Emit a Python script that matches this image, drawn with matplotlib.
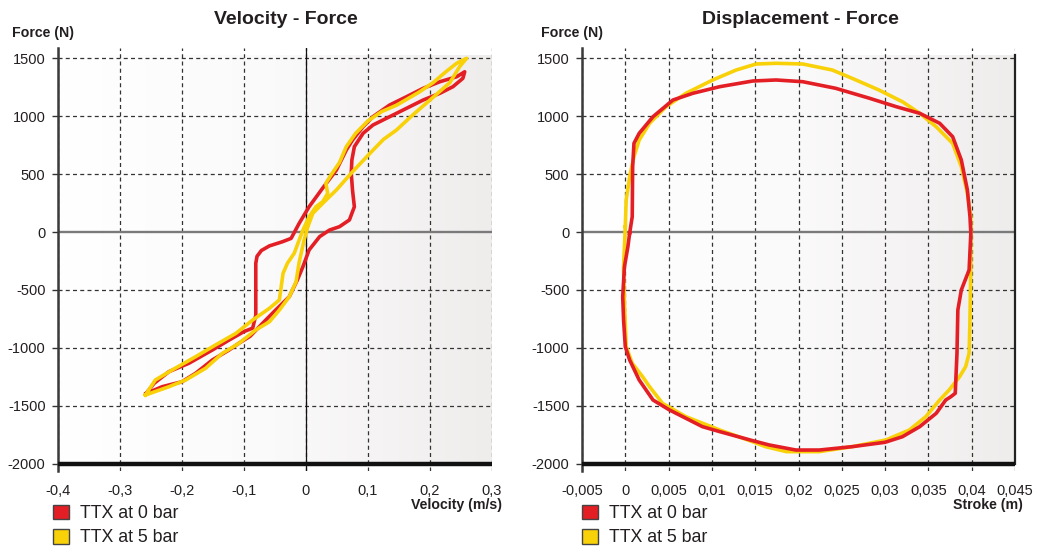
import numpy as np
import matplotlib
matplotlib.use('Agg')
import matplotlib.pyplot as plt
from matplotlib.patches import Patch
from matplotlib.colors import LinearSegmentedColormap

plt.rcParams['font.family'] = ['Liberation Sans', 'DejaVu Sans']

# ---------------- data ----------------
series_names = ['TTX at 0 bar', 'TTX at 5 bar']

# Velocity - Force, TTX at 0 bar (closed loop)
vf_red_v = [-0.258, -0.232, -0.200, -0.178, -0.151, -0.124, -0.108, -0.090, -0.070, -0.049,
            -0.027, -0.014, -0.005, 0.005, 0.022, 0.038, 0.054, 0.070, 0.078, 0.075,
            0.073, 0.074, 0.078, 0.092, 0.108, 0.135, 0.162, 0.189, 0.216, 0.237,
            0.253, 0.256, 0.243, 0.216, 0.189, 0.162, 0.135, 0.108, 0.092, 0.075,
            0.065, 0.049, 0.027, 0.005, -0.011, -0.024, -0.038, -0.059, -0.072, -0.079,
            -0.081, -0.081, -0.081, -0.086, -0.100, -0.124, -0.151, -0.189, -0.221, -0.245,
            -0.258]
vf_red_f = [-1395, -1336, -1293, -1220, -1105, -1019, -960, -900, -788, -674,
            -559, -415, -300, -155, -40, 17, 46, 104, 218, 363,
            507, 622, 737, 852, 924, 996, 1068, 1140, 1198, 1255,
            1327, 1384, 1341, 1298, 1241, 1168, 1097, 996, 909, 794,
            708, 535, 380, 218, 75, -55, -84, -120, -160, -210,
            -270, -500, -720, -830, -860, -933, -1019, -1134, -1206, -1307,
            -1395]

# Velocity - Force, TTX at 5 bar (closed loop)
vf_yel_v = [-0.259, -0.221, -0.194, -0.162, -0.135, -0.108, -0.081, -0.059, -0.043, -0.027,
            -0.016, -0.011, -0.003, 0.003, 0.011, 0.027, 0.049, 0.075, 0.105, 0.125,
            0.146, 0.172, 0.200, 0.232, 0.248, 0.259, 0.243, 0.227, 0.205, 0.183,
            0.146, 0.122, 0.100, 0.080, 0.065, 0.054, 0.040, 0.032, 0.035, 0.027,
            0.016, 0.005, -0.005, -0.011, -0.019, -0.030, -0.037, -0.040, -0.043, -0.059,
            -0.086, -0.113, -0.146, -0.178, -0.216, -0.243, -0.259]
vf_yel_f = [-1408, -1336, -1278, -1177, -1048, -961, -846, -775, -674, -559,
            -430, -260, -69, 46, 161, 248, 363, 520, 690, 800,
            881, 1010, 1140, 1290, 1430, 1500, 1457, 1390, 1290, 1210,
            1095, 1040, 960, 852, 737, 600, 490, 420, 334, 262,
            218, 132, 17, -69, -184, -270, -357, -472, -587, -659,
            -760, -875, -976, -1077, -1192, -1278, -1408]

# Displacement - Force, TTX at 0 bar (closed loop)
df_red_s = [0.0005, 0.0008, 0.00085, 0.0010, 0.0016, 0.0032, 0.0055, 0.0078, 0.0109, 0.0147,
            0.0174, 0.0205, 0.0243, 0.0282, 0.0313, 0.0340, 0.0363, 0.0378, 0.0388, 0.0395,
            0.0398, 0.0399, 0.0397, 0.0388, 0.0384, 0.0383, 0.0381, 0.0376, 0.0370, 0.0359,
            0.0340, 0.0320, 0.0300, 0.0262, 0.0224, 0.0197, 0.0166, 0.0147, 0.0109, 0.0089,
            0.0051, 0.0032, 0.0016, 0.0005, 0.0000, -0.0002, -0.0003, -0.0001, 0.0003, 0.0005]
df_red_f = [-11, 132, 564, 766, 852, 996, 1140, 1198, 1255, 1304,
            1313, 1298, 1241, 1155, 1082, 1025, 939, 823, 622, 363,
            132, -11, -328, -501, -674, -1048, -1393, -1422, -1451, -1566,
            -1681, -1768, -1816, -1854, -1883, -1883, -1839, -1802, -1724, -1681,
            -1537, -1451, -1278, -1105, -991, -760, -559, -300, -127, -11]

# Displacement - Force, TTX at 5 bar (closed loop)
df_yel_s = [0.0000, 0.0001, 0.0005, 0.0010, 0.0016, 0.0028, 0.0047, 0.0070, 0.0101, 0.0128,
            0.0151, 0.0174, 0.0205, 0.0239, 0.0262, 0.0293, 0.0320, 0.0340, 0.0359, 0.0378,
            0.0388, 0.0395, 0.0399, 0.0399, 0.0398, 0.0397, 0.0393, 0.0386, 0.0374, 0.0363,
            0.0347, 0.0328, 0.0301, 0.0262, 0.0224, 0.0186, 0.0162, 0.0147, 0.0109, 0.0070,
            0.0043, 0.0028, 0.0020, 0.0008, 0.0001, -0.0001, -0.0002, -0.0002, 0.0000]
df_yel_f = [46, 276, 478, 651, 794, 939, 1082, 1198, 1313, 1399,
            1451, 1457, 1451, 1399, 1327, 1226, 1125, 1025, 909, 766,
            564, 334, 132, -300, -760, -1048, -1163, -1250, -1364, -1451,
            -1595, -1710, -1796, -1854, -1897, -1897, -1854, -1811, -1710, -1595,
            -1480, -1336, -1250, -1134, -991, -616, -328, -300, 46]

force_ticks = [-2000, -1500, -1000, -500, 0, 500, 1000, 1500]
force_tick_labels = ['-2000', '-1500', '-1000', '-500', '0', '500', '1000', '1500']
vel_ticks = [-0.4, -0.3, -0.2, -0.1, 0.0, 0.1, 0.2, 0.3]
vel_tick_labels = ['-0,4', '-0,3', '-0,2', '-0,1', '0', '0,1', '0,2', '0,3']
stroke_ticks = [-0.005, 0.0, 0.005, 0.01, 0.015, 0.02, 0.025, 0.03, 0.035, 0.04, 0.045]
stroke_tick_labels = ['-0,005', '0', '0,005', '0,01', '0,015', '0,02', '0,025', '0,03',
                      '0,035', '0,04', '0,045']

RED = '#e31e25'
YEL = '#f8d108'
TXT = '#231f20'

# ---------------- figure ----------------
fig = plt.figure(figsize=(10.5, 5.5), dpi=100)
ax1 = fig.add_axes([0.05524, 0.14345, 0.41333, 0.76945])
ax2 = fig.add_axes([0.55429, 0.14345, 0.41238, 0.76945])

bg_cmap = LinearSegmentedColormap.from_list('bg', ['#ffffff', '#fbfafa', '#efecec'])


def style(ax, xt, xl, right_solid):
    xmin, xmax = xt[0], xt[-1]
    grad = np.linspace(0, 1, 256).reshape(1, -1)
    ax.imshow(grad, extent=[xmin, xmax, -2000, 1530], aspect='auto', cmap=bg_cmap,
              zorder=0, interpolation='bilinear')
    ax.set_xlim(xmin, xmax)
    ax.set_ylim(-2065, 1590)
    for x in xt:
        ax.axvline(x, color='#333333', lw=0.9, ls=(0, (3.2, 2.6)), zorder=1)
    for y in force_ticks:
        if y == 0:
            ax.axhline(y, color='#7a7a7a', lw=1.7, zorder=1.5)
        elif y == -2000:
            ax.axhline(y, color='#111111', lw=3.2, zorder=5)
        else:
            ax.axhline(y, color='#333333', lw=0.9, ls=(0, (3.2, 2.6)), zorder=1)
    for s in ['top', 'bottom']:
        ax.spines[s].set_visible(False)
    ax.spines['left'].set_color('#3a3a3a')
    ax.spines['left'].set_linewidth(1.8)
    if right_solid:
        ax.spines['right'].set_color('#222222')
        ax.spines['right'].set_linewidth(1.6)
        ax.spines['right'].set_bounds(-2000, 1530)
    else:
        ax.spines['right'].set_visible(False)
    ax.set_yticks(force_ticks)
    ax.set_yticklabels(force_tick_labels)
    ax.set_xticks(xt)
    ax.set_xticklabels(xl)
    ax.tick_params(axis='y', direction='out', length=4, width=1, color='#333333',
                   labelsize=10.5, pad=5, labelcolor=TXT)
    ax.tick_params(axis='x', length=0, labelsize=10.5, pad=9, labelcolor=TXT)


style(ax1, vel_ticks, vel_tick_labels, False)
style(ax2, stroke_ticks, stroke_tick_labels, True)

ax1.axvline(0, color='#111111', lw=0.9, zorder=1.6)

ax1.plot(vf_red_v, vf_red_f, color=RED, lw=2.6, solid_joinstyle='round', zorder=3)
ax1.plot(vf_yel_v, vf_yel_f, color=YEL, lw=2.6, solid_joinstyle='round', zorder=3)

ax2.plot(df_yel_s, df_yel_f, color=YEL, lw=2.6, solid_joinstyle='round', zorder=3)
ax2.plot(df_red_s, df_red_f, color=RED, lw=2.6, solid_joinstyle='round', zorder=3)

# titles and labels
fig.text(286 / 1050, 1 - 20 / 550, 'Velocity - Force', ha='center', va='center',
         fontsize=14, fontweight='bold', color=TXT)
fig.text(800 / 1050, 1 - 20 / 550, 'Displacement - Force', ha='center', va='center',
         fontsize=14, fontweight='bold', color=TXT)
fig.text(12 / 1050, 1 - 33 / 550, 'Force (N)', ha='left', va='center',
         fontsize=10.2, fontweight='bold', color=TXT)
fig.text(541 / 1050, 1 - 33 / 550, 'Force (N)', ha='left', va='center',
         fontsize=10.2, fontweight='bold', color=TXT)
fig.text(502 / 1050, 1 - 505 / 550, 'Velocity (m/s)', ha='right', va='center',
         fontsize=10.2, fontweight='bold', color=TXT)
fig.text(1023 / 1050, 1 - 505 / 550, 'Stroke (m)', ha='right', va='center',
         fontsize=10.2, fontweight='bold', color=TXT)

for ax, lx in [(ax1, 53), (ax2, 582)]:
    handles = [Patch(facecolor=RED, edgecolor='#444444', lw=1, label=series_names[0]),
               Patch(facecolor=YEL, edgecolor='#444444', lw=1, label=series_names[1])]
    leg = ax.legend(handles=handles, loc='upper left',
                    bbox_to_anchor=(lx / 1050, 1 - 504.5 / 550),
                    bbox_transform=fig.transFigure, frameon=False, fontsize=12.8,
                    handlelength=0.9, handleheight=0.9, handletextpad=0.6,
                    labelspacing=0.38, borderpad=0, borderaxespad=0)
    for t in leg.get_texts():
        t.set_color(TXT)

fig.savefig('out.png', dpi=100)
